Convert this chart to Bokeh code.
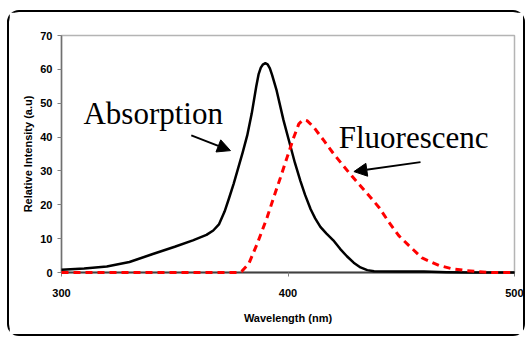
from bokeh.plotting import figure
from bokeh.models import Range1d, FixedTicker, Label, Arrow, NormalHead
from bokeh.embed import file_html
from bokeh.resources import INLINE

# ---- data ----
abs_wl = [300, 310, 320, 330, 340, 350, 358, 364, 367, 369.5, 372, 374, 376, 378,
          380, 382, 384, 386, 387, 388, 389, 390, 391, 392, 393, 395, 398, 401,
          403, 405.5, 407.5, 410, 412, 414.3, 417, 420, 423, 426, 429, 432, 435,
          438, 450, 460, 470, 480, 500]
abs_val = [0.8, 1.2, 1.8, 3.1, 5.4, 7.6, 9.5, 11.1, 12.4, 14.2, 18, 22, 26.2, 30.8,
           35.5, 40.5, 47, 55, 58.5, 60.5, 61.5, 61.8, 61.5, 60.3, 58.3, 53.7, 45, 37.5,
           32.5, 27, 23, 18.7, 16, 13.5, 11.5, 9.5, 7, 4.8, 2.9, 1.5, 0.7,
           0.4, 0.3, 0.3, 0.1, 0, 0]

fl_wl = [300, 340, 378, 379.5, 382.7, 386.4, 390.8, 393.7, 396.7, 399.6, 402.6,
         404.8, 406.5, 408.5, 411.4, 415.8, 420.2, 424.6, 428.3, 434.2, 440.1,
         444.5, 448.9, 453.3, 459.2, 466.6, 472.5, 478.4, 483, 490, 500]
fl_val = [0, 0, 0, 0.3, 2.6, 8.5, 16.3, 22.2, 28.1, 34, 40,
          43.9, 45, 44.8, 42.9, 39, 35, 31.4, 28.4, 23.9, 19.3,
          14.9, 10.9, 8, 4.3, 2.1, 1.1, 0.6, 0.3, 0, 0]

x_ticks = [300, 400, 500]
y_ticks = [0, 10, 20, 30, 40, 50, 60, 70]

# annotation anchors (data units)
abs_label = ("Absorption", 309.7, 46.9)
fl_label = ("Fluorescenc", 422.4, 39.8)
abs_arrow = (357.3, 40.5, 374.6, 36.0)
fl_arrow = (458.5, 32.6, 429.1, 29.8)

host_css = """
:host {
  margin: 10px 0 0 7px !important;
  border: 2px solid black !important;
  border-radius: 12px !important;
}
"""

p = figure(width=518, height=326, output_backend="svg", toolbar_location=None,
           x_range=Range1d(300, 500), y_range=Range1d(0, 70),
           min_border_left=52, min_border_right=13, min_border_top=23,
           min_border_bottom=66, stylesheets=[host_css])
p.background_fill_color = "white"
p.border_fill_color = "white"
p.grid.visible = False
p.outline_line_color = "#b4b4b4"
p.outline_line_width = 1.5

font = "Liberation Sans"
for ax in (p.xaxis[0], p.yaxis[0]):
    ax.major_label_text_font = font
    ax.major_label_text_font_style = "bold"
    ax.major_label_text_font_size = "11px"
    ax.major_label_text_color = "black"
    ax.axis_label_text_font = font
    ax.axis_label_text_font_style = "bold"
    ax.axis_label_text_font_size = "11px"
    ax.axis_label_text_color = "black"
    ax.minor_tick_line_color = None
    ax.major_tick_in = 0
    ax.major_tick_out = 4
    ax.major_tick_line_color = "#808080"

p.xaxis.ticker = FixedTicker(ticks=x_ticks)
p.yaxis.ticker = FixedTicker(ticks=y_ticks)
p.xaxis.axis_label = "Wavelength (nm)"
p.yaxis.axis_label = "Relative Intensity (a.u)"
p.xaxis.axis_line_color = "#404040"
p.xaxis.axis_line_width = 2
p.yaxis.axis_line_color = "#707070"
p.yaxis.axis_line_width = 1.5
p.xaxis.major_label_standoff = 12
p.xaxis.axis_label_standoff = 12
p.yaxis.major_label_standoff = 5
p.yaxis.axis_label_standoff = 3

r1 = p.line(abs_wl, abs_val, line_color="black", line_width=2.5, line_join="round")
r2 = p.line(fl_wl, fl_val, line_color="#ff0000", line_width=3, line_dash="7 5")
r1.level = "overlay"
r2.level = "overlay"

for txt, x, y in (abs_label, fl_label):
    p.add_layout(Label(x=x, y=y, text=txt, text_font="Liberation Serif",
                       text_font_size="31px", text_color="black",
                       text_baseline="alphabetic", text_align="left"))

for xs, ys, xe, ye in (abs_arrow, fl_arrow):
    p.add_layout(Arrow(end=NormalHead(size=13, fill_color="black", line_color="black"),
                       x_start=xs, y_start=ys, x_end=xe, y_end=ye,
                       line_color="black", line_width=2))

open("out.html", "w").write(file_html(p, INLINE))
